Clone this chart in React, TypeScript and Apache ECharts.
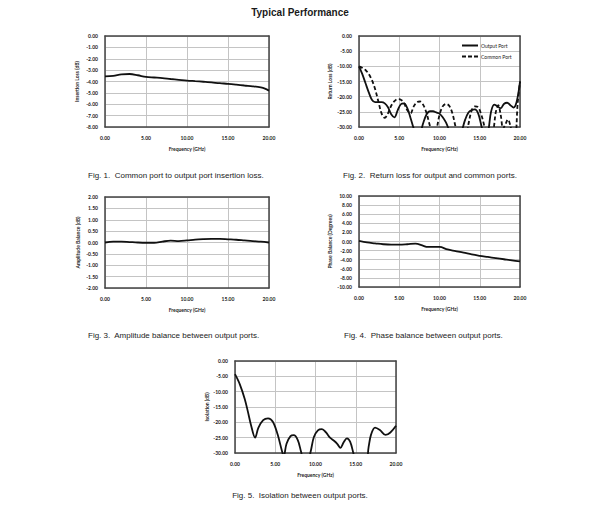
import React, { useEffect, useRef } from "react";
import * as echarts from "echarts";

// ---------- data ----------
const ilFreq = [0, 1, 2, 3, 4, 5, 6, 7, 8, 9, 10, 11, 12, 13, 14, 15, 16, 17, 18, 19, 19.5, 20];
const ilVals = [-3.55, -3.5, -3.38, -3.34, -3.45, -3.6, -3.65, -3.7, -3.78, -3.85, -3.92, -3.97, -4.02, -4.08, -4.15, -4.2, -4.27, -4.35, -4.42, -4.52, -4.62, -4.8];

const rlOutFreq = [0, 0.4, 0.8, 1.2, 1.6, 2.0, 2.4, 2.8, 3.2, 3.6, 4.0, 4.4, 4.8, 5.2, 5.6, 6.0, 6.4, 6.8, 7.2, 7.6, 8.0, 8.4, 8.8, 9.2, 9.6, 10.0, 10.4, 10.8, 11.2, 11.6, 12.4, 12.8, 13.2, 13.6, 14.0, 14.4, 14.8, 15.2, 15.6, 16.0, 16.4, 16.8, 17.2, 17.6, 18.0, 18.4, 18.8, 19.2, 19.6, 20];
const rlOutVals = [-10, -12.5, -15.5, -18.5, -21, -21.8, -21.8, -21.8, -22.2, -23.5, -25.8, -26.8, -24.5, -22.5, -22.2, -23.8, -27, -30.5, -33, -32, -28.5, -25.8, -24.8, -24.8, -25.2, -25.6, -26.8, -28.5, -31, -33, -34, -31, -27.5, -25.2, -24.4, -24.2, -25.5, -29.5, -33, -32, -25, -22.6, -23.2, -23.8, -22.4, -22, -22.8, -23.6, -21.5, -15];

const rlComFreq = [0, 0.4, 0.8, 1.2, 1.6, 2.0, 2.4, 2.8, 3.2, 3.6, 4.0, 4.4, 4.8, 5.2, 5.6, 6.0, 6.4, 6.8, 7.2, 7.6, 8.0, 8.4, 8.8, 9.2, 9.6, 10.0, 10.4, 10.8, 11.2, 11.6, 12.0, 12.4, 13.2, 13.6, 14.0, 14.4, 14.8, 15.2, 15.6, 16.0, 16.6, 17.0, 17.3, 17.6, 17.9, 18.2, 18.5, 18.8, 19.1, 19.4, 19.7, 20];
const rlComVals = [-10, -10.5, -11.2, -12.5, -14.5, -17.5, -21.5, -25.5, -27, -25.5, -23, -21.5, -20.8, -21, -22.2, -24.5, -25.5, -23.2, -21.8, -21.6, -22.8, -25.5, -29.5, -33, -31, -26, -23.2, -22.4, -23, -25.5, -30, -34, -34, -29, -24.5, -23.2, -23.5, -26, -30, -34, -32, -25, -22.8, -26, -30.5, -29, -27.5, -29.5, -33, -33, -22.5, -15];

const abFreq = [0, 1, 2, 3, 4, 5, 6, 7, 8, 9, 10, 11, 12, 13, 14, 15, 16, 17, 18, 19, 20];
const abVals = [0.0, 0.04, 0.04, 0.02, 0.0, -0.01, -0.01, 0.04, 0.08, 0.06, 0.09, 0.13, 0.15, 0.16, 0.16, 0.14, 0.12, 0.09, 0.06, 0.04, 0.0];

const pbFreq = [0, 1, 2, 3, 4, 5, 6, 7, 8, 8.5, 9, 10, 11, 12, 13, 14, 15, 16, 17, 18, 19, 20];
const pbVals = [0.15, -0.2, -0.4, -0.6, -0.7, -0.7, -0.6, -0.45, -0.95, -1.2, -1.2, -1.2, -1.75, -2.1, -2.45, -2.85, -3.15, -3.4, -3.65, -3.9, -4.15, -4.35];

const isoFreq = [0, 0.6, 1.2, 1.6, 2.0, 2.5, 2.9, 3.5, 4.1, 4.7, 5.3, 5.8, 6.05, 6.4, 6.9, 7.3, 7.8, 8.2, 8.6, 9.0, 9.4, 9.8, 10.3, 10.8, 11.3, 11.8, 12.3, 12.7, 13.1, 13.5, 13.9, 14.3, 14.7, 15.1, 16.2, 16.6, 16.9, 17.4, 18.0, 18.7, 19.3, 20];
const isoVals = [-4.3, -7.6, -12.3, -16.5, -21, -25, -21.8, -19.3, -18.7, -19.8, -24, -29, -31, -27, -24.5, -24.2, -25.8, -29.5, -33, -33, -29.5, -24.8, -22.6, -22.2, -23.3, -25, -26, -27, -28.3, -26.5, -25.2, -26.3, -30, -34, -34, -28, -24, -21.7, -22.5, -24.1, -23.3, -21.1];

const title = "Typical Performance";
const xName = "Frequency (GHz)";
const yNames = ["Insertion Loss (dB)", "Return Loss (dB)", "Amplitude Balance (dB)", "Phase Balance (Degrees)", "Isolation (dB)"];
const yRanges = [
  { min: -8, max: 0, interval: 1 },
  { min: -30, max: 0, interval: 5 },
  { min: -2, max: 2, interval: 0.5 },
  { min: -10, max: 10, interval: 2 },
  { min: -30, max: 0, interval: 5 },
];
const captions = [
  "Fig. 1.  Common port to output port insertion loss.",
  "Fig. 2.  Return loss for output and common ports.",
  "Fig. 3.  Amplitude balance between output ports.",
  "Fig. 4.  Phase balance between output ports.",
  "Fig. 5.  Isolation between output ports.",
];
const legendNames = ["Output Port", "Common Port"];

// ---------- layout ----------
const grids = [
  { left: 105, top: 36, width: 164, height: 91 },
  { left: 359, top: 36, width: 161, height: 91 },
  { left: 105, top: 197, width: 164, height: 91 },
  { left: 359, top: 196, width: 161, height: 91 },
  { left: 235, top: 361, width: 161, height: 92 },
];
const yNameGaps = [26, 27, 25, 27, 26];
const captionPos = [
  { x: 88, y: 175, align: "left" },
  { x: 343, y: 175, align: "left" },
  { x: 88, y: 335, align: "left" },
  { x: 344, y: 335, align: "left" },
  { x: 300, y: 495, align: "center" },
];

const pairs = (xs: number[], ys: number[]) => xs.map((x, i) => [x, ys[i]]);

const labelFont = { fontSize: 5, fontFamily: "Lato", fontWeight: "bold" as const, color: "#1a1a1a" };
const solidIcon = "path://M0 0H16V2H0Z";
const dashedIcon = "path://M0 0H4V2H0Z M6 0H10V2H6Z M12 0H16V2H12Z";

export default function App() {
  const ref = useRef<HTMLDivElement>(null);
  useEffect(() => {
    if (!ref.current) return;
    const chart = echarts.init(ref.current, undefined, { renderer: "svg" });
    const xAxes: any[] = [];
    const yAxes: any[] = [];
    grids.forEach((g, i) => {
      xAxes.push({
        type: "value",
        gridIndex: i,
        min: 0,
        max: 20,
        interval: 5,
        name: xName,
        nameLocation: "middle",
        nameGap: 19,
        nameTextStyle: { ...labelFont },
        axisLine: { show: true, onZero: false, lineStyle: { color: "#444", width: 1.5 } },
        axisTick: { show: false },
        axisLabel: { ...labelFont, margin: 8, formatter: (v: number) => v.toFixed(2) },
        splitLine: { show: true, lineStyle: { color: "#c4c4c4", width: 1 } },
      });
      xAxes.push({
        type: "value",
        gridIndex: i,
        position: "top",
        min: 0,
        max: 20,
        interval: 5,
        axisLine: { show: true, onZero: false, lineStyle: { color: "#444", width: 1.5 } },
        axisTick: { show: false },
        axisLabel: { show: false },
        splitLine: { show: false },
      });
      const r = yRanges[i];
      yAxes.push({
        type: "value",
        gridIndex: i,
        min: r.min,
        max: r.max,
        interval: r.interval,
        name: yNames[i],
        nameLocation: "middle",
        nameRotate: 90,
        nameGap: yNameGaps[i],
        nameTextStyle: { ...labelFont },
        axisLine: { show: true, onZero: false, lineStyle: { color: "#444", width: 1.5 } },
        axisTick: { show: false },
        axisLabel: { ...labelFont, margin: 7, formatter: (v: number) => v.toFixed(2) },
        splitLine: { show: true, lineStyle: { color: "#c4c4c4", width: 1 } },
      });
      yAxes.push({
        type: "value",
        gridIndex: i,
        position: "right",
        min: r.min,
        max: r.max,
        interval: r.interval,
        axisLine: { show: true, onZero: false, lineStyle: { color: "#444", width: 1.5 } },
        axisTick: { show: false },
        axisLabel: { show: false },
        splitLine: { show: false },
      });
    });

    const line = (name: string, gi: number, data: number[][], dashed = false) => ({
      type: "line",
      name,
      xAxisIndex: gi * 2,
      yAxisIndex: gi * 2,
      data,
      symbol: "none",
      smooth: 0.35,
      clip: true,
      lineStyle: { color: "#111", width: 1.8, type: dashed ? [4, 2.5] : "solid" },
      itemStyle: { color: "#111" },
    });

    const graphics: any[] = [
      {
        type: "text",
        x: 300,
        y: 12,
        style: { text: title, textAlign: "center", textVerticalAlign: "middle", font: 'bold 10px "Liberation Sans"', fill: "#1a1a1a" },
      },
      ...captions.map((c, i) => ({
        type: "text",
        x: captionPos[i].x,
        y: captionPos[i].y,
        style: { text: c, textAlign: captionPos[i].align, textVerticalAlign: "middle", font: '8px "Liberation Sans"', fill: "#222" },
      })),
    ];

    chart.setOption({
      animation: false,
      backgroundColor: "#fff",
      grid: grids.map((g) => ({ ...g, containLabel: false })),
      xAxis: xAxes,
      yAxis: yAxes,
      legend: {
        data: [
          { name: legendNames[0], icon: solidIcon },
          { name: legendNames[1], icon: dashedIcon },
        ],
        orient: "vertical",
        left: 462,
        top: 43,
        itemWidth: 16,
        itemHeight: 2,
        itemGap: 6,
        textStyle: { fontSize: 5, fontFamily: "Lato", color: "#1a1a1a", padding: [0, 0, 0, -2] },
        padding: 0,
      },
      graphic: graphics,
      series: [
        line("Insertion Loss", 0, pairs(ilFreq, ilVals)),
        line(legendNames[0], 1, pairs(rlOutFreq, rlOutVals)),
        line(legendNames[1], 1, pairs(rlComFreq, rlComVals), true),
        line("Amplitude Balance", 2, pairs(abFreq, abVals)),
        line("Phase Balance", 3, pairs(pbFreq, pbVals)),
        line("Isolation", 4, pairs(isoFreq, isoVals)),
      ],
    });
    return () => chart.dispose();
  }, []);
  return <div ref={ref} style={{ position: "fixed", left: 0, top: 0, width: 600, height: 509, background: "#fff" }} />;
}
